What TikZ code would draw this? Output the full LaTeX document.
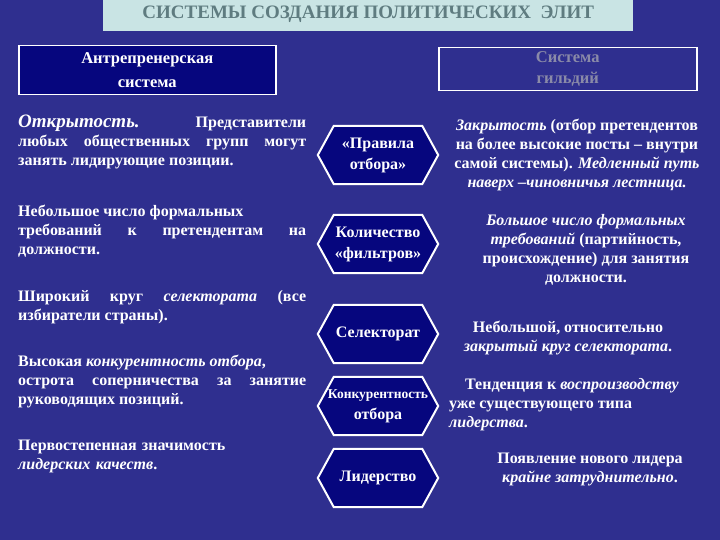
\documentclass[tikz,border=0pt]{standalone}
\usepackage{fontspec}
\setmainfont{Liberation Serif}
\usetikzlibrary{calc}
\definecolor{bg}{HTML}{2F2F8F}
\definecolor{navy}{HTML}{06067E}
\definecolor{titlebg}{HTML}{C9E4E4}
\definecolor{titlefg}{HTML}{5F7C80}
\definecolor{greytxt}{HTML}{8A8AA8}
\begin{document}
\begin{tikzpicture}[x=1pt,y=-1pt,
  txt/.style={text=white,font=\fontsize{16}{19}\selectfont\bfseries,inner sep=0pt},
  ltxt/.style={txt,anchor=north west,text width=288pt,align=justify},
  rtxt/.style={txt,align=center},
  hexn/.style={text=white,font=\fontsize{16}{21}\selectfont\bfseries,align=center,minimum width=120pt,minimum height=58pt,inner sep=0pt}]
\fill[bg] (0,0) rectangle (720,540);
\useasboundingbox (0,0) rectangle (720,540);
\node[fill=titlebg,minimum width=530pt,minimum height=33pt,anchor=north west,text=titlefg,font=\fontsize{19}{22}\selectfont\bfseries] (title) at (103,-2) {СИСТЕМЫ СОЗДАНИЯ ПОЛИТИЧЕСКИХ \ ЭЛИТ};
\node[fill=navy,draw=white,line width=1.5pt,minimum width=257pt,minimum height=49pt,anchor=north west,align=center,text=white,font=\fontsize{16.5}{24}\selectfont\bfseries] (left) at (18,45) {Антрепренерская\\система};
\node[draw=white,line width=1.5pt,minimum width=258pt,minimum height=43pt,anchor=north west,align=center,text=greytxt,font=\fontsize{16.5}{21}\selectfont\bfseries] (right) at (438,47) {Система\\гильдий};
\newcommand{\hexat}[3]{%
  \node[hexn] (#1) at (378,#2) {#3};
  \draw[white,line width=2pt,fill=navy] (#1.west) -- ($(#1.north west)+(16,0)$) -- ($(#1.north east)+(-16,0)$) -- (#1.east) -- ($(#1.south east)+(-16,0)$) -- ($(#1.south west)+(16,0)$) -- cycle;
  \node[hexn] at (#1) {#3};}
\hexat{h1}{155}{«Правила\\отбора»}
\hexat{h2}{244}{Количество\\«фильтров»}
\hexat{h3}{334}{Селекторат}
\hexat{h4}{406}{\fontsize{13.5}{24}\selectfont Конкурентность\\отбора}
\hexat{h5}{478}{Лидерство}
\node[ltxt] (l1) at (18,115) {{\fontsize{19}{18}\selectfont\itshape Открытость.}\hspace{1.6em} Представители любых общественных групп могут занять лидирующие позиции.};
\node[ltxt] (l2) at (18,205) {Небольшое число формальных\\требований к претендентам на\linebreak должности.};
\node[ltxt] (l3) at (18,290) {Широкий круг \textit{селектората} (все избиратели страны).};
\node[ltxt] (l4) at (18,355) {Высокая \textit{конкурентность отбора},\\острота соперничества за занятие\linebreak руководящих позиций.};
\node[ltxt,text width=280pt,align=left] (l5) at (18,440) {Первостепенная значимость\\\textit{лидерских качеств}.};
\node[rtxt] (r1) at (577,155) {\textit{Закрытость} (отбор претендентов\\на более высокие посты – внутри\\самой системы). \textit{Медленный путь}\\\textit{наверх –чиновничья лестница.}};
\node[rtxt] (r2) at (586,250) {\textit{Большое число формальных}\\\textit{требований} (партийность,\\происхождение) для занятия\\должности.};
\node[rtxt] (r3) at (568,338) {Небольшой, относительно\\\textit{закрытый круг селектората}.};
\node[rtxt,align=left] (r4) at (564,405) {\hspace{1em}Тенденция к \textit{воспроизводству}\\уже существующего типа\\\textit{лидерства}.};
\node[rtxt] (r5) at (590,469) {Появление нового лидера\\\textit{крайне затруднительно}.};
\end{tikzpicture}
\end{document}
